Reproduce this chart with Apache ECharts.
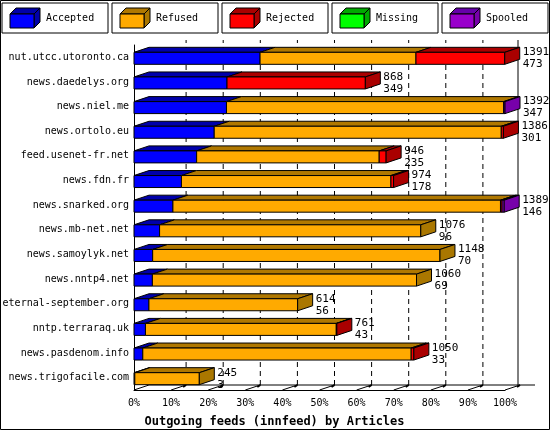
<!DOCTYPE html><html><head><meta charset="utf-8">
<script src="https://cdn.jsdelivr.net/npm/echarts@6/dist/echarts.min.js"></script>
<style>body{margin:0}#c{width:550px;height:430px}</style></head><body><div id="c"></div>
<script>
const hosts=["nut.utcc.utoronto.ca","news.daedelys.org","news.niel.me","news.ortolo.eu","feed.usenet-fr.net","news.fdn.fr","news.snarked.org","news.mb-net.net","news.samoylyk.net","news.nntp4.net","eternal-september.org","nntp.terraraq.uk","news.pasdenom.info","news.trigofacile.com"];
const offered=[1391,868,1392,1386,946,974,1389,1076,1148,1060,614,761,1050,245];
const accepted=[473,349,347,301,235,178,146,96,70,69,56,43,33,3];
const refused=[585,0,1040,1077,685,786,1229,980,1078,991,558,716,1007,242];
const rejected=[333,519,0,8,26,10,6,0,0,0,0,2,10,0];
const missing=[0,0,0,0,0,0,0,0,0,0,0,0,0,0];
const spooled=[0,0,5,0,0,0,8,0,0,0,0,0,0,0];
const tickLabels=["0%","10%","20%","30%","40%","50%","60%","70%","80%","90%","100%"];
const names=["Accepted","Refused","Rejected","Missing","Spooled"];
const front=["#0000ff","#ffaa00","#ff0000","#00ff00","#9900cc"];
const top_=["#0000aa","#b07800","#aa0000","#00aa00","#6600aa"];
const side=["#0000aa","#aa7700","#aa0000","#00aa00","#7700aa"];
const MAX=1392, DX=15, DY=-5, F='"DejaVu Sans Mono",monospace';
const segs=[accepted,refused,rejected,missing,spooled];
const data=hosts.map((h,i)=>[i]);
const chart=echarts.init(document.getElementById('c'));
const legend=[];
names.forEach((n,i)=>{const x=2+i*110;
 legend.push({type:'rect',shape:{x:x,y:3,width:106,height:30},style:{fill:'#fff',stroke:'#000',lineWidth:1}});
 legend.push({type:'polygon',shape:{points:[[x+8,14],[x+14,8],[x+38,8],[x+32,14]]},style:{fill:top_[i],stroke:'#000'}});
 legend.push({type:'polygon',shape:{points:[[x+32,14],[x+38,8],[x+38,22],[x+32,28]]},style:{fill:side[i],stroke:'#000'}});
 legend.push({type:'rect',shape:{x:x+8,y:14,width:24,height:14},style:{fill:front[i],stroke:'#000'}});
 legend.push({type:'text',x:x+44,y:13,style:{text:n,font:'10px '+F,fill:'#000'}});
});
chart.setOption({animation:false,backgroundColor:'#fff',
 grid:{left:134,right:45,top:45,bottom:40,outerBoundsMode:'none',containLabel:false},
 xAxis:{type:'value',min:0,max:MAX,interval:MAX/10,axisLine:{show:true,lineStyle:{color:'#000'}},axisTick:{show:false},splitLine:{show:false},
  axisLabel:{color:'#000',fontFamily:F,fontSize:10,margin:8,formatter:(v)=>tickLabels[Math.round(v/MAX*10)]},
  name:'Outgoing feeds (innfeed) by Articles',nameLocation:'middle',nameGap:26,nameTextStyle:{color:'#000',fontFamily:F,fontSize:12,fontWeight:'bold',padding:[0,0,0,-90]}},
 yAxis:{type:'category',data:hosts,inverse:true,axisLine:{show:true,lineStyle:{color:'#000'}},axisTick:{show:false},
  axisLabel:{color:'#000',fontFamily:F,fontSize:10,margin:5}},
 graphic:[{type:'rect',shape:{x:0.5,y:0.5,width:549,height:429},style:{fill:'none',stroke:'#000'}}].concat(legend),
 series:[
 {type:'custom',coordinateSystem:'cartesian2d',data:tickLabels.map((t,i)=>[i*MAX/10]),z:1,
  renderItem:(p,api)=>{const v=api.value(0);const b=api.coord([v,hosts[hosts.length-1]]);
   const bx=b[0],by=p.coordSys.y+p.coordSys.height;const ty=p.coordSys.y-5;
   const ch=[];
   if(v>0&&v<MAX-1)ch.push({type:'line',shape:{x1:bx+DX,y1:by+DY,x2:bx+DX,y2:ty},style:{stroke:'#000',lineDash:[5,4]}});
   if(v>0)ch.push({type:'line',shape:{x1:bx+DX-3,y1:by+DY+2,x2:bx+DX,y2:by+DY},style:{stroke:'#000',lineWidth:2}});
   ch.push({type:'line',shape:{x1:bx,y1:by,x2:bx+DX,y2:by+DY},style:{stroke:'#000'}});
   if(v>=MAX-1){ch.push({type:'line',shape:{x1:bx+DX-2,y1:by+DY,x2:bx+DX-2,y2:ty},style:{stroke:'#000'}});
    ch.push({type:'line',shape:{x1:p.coordSys.x+DX,y1:by+DY,x2:bx+DX+15,y2:by+DY},style:{stroke:'#000'}});}
   return {type:'group',children:ch};}},
 {type:'custom',coordinateSystem:'cartesian2d',data:data,z:2,
  renderItem:(p,api)=>{const i=api.value(0);const ch=[];const h=12;
   let cum=0;let last=-1;segs.forEach((s,k)=>{if(s[i]>0)last=k;});
   segs.forEach((s,k)=>{const v=s[i];if(!v)return;
    const a=api.coord([cum,hosts[i]]),b=api.coord([cum+v,hosts[i]]);cum+=v;
    const y=a[1]-h/2+1,x1=a[0],x2=b[0];
    ch.push({type:'polygon',shape:{points:[[x1,y],[x1+DX,y+DY],[x2+DX,y+DY],[x2,y]]},style:{fill:top_[k],stroke:'#000',lineWidth:1}});
    ch.push({type:'rect',shape:{x:x1,y:y,width:x2-x1,height:h},style:{fill:front[k],stroke:'#000',lineWidth:1}});
    if(k===last)ch.push({type:'polygon',shape:{points:[[x2,y],[x2+DX,y+DY],[x2+DX,y+DY+h],[x2,y+h]]},style:{fill:side[k],stroke:'#000',lineWidth:1}});
   });
   const e=api.coord([offered[i],hosts[i]]);
   ch.push({type:'text',x:e[0]+DX+3,y:e[1]-h/2-5,style:{text:offered[i]+'\n'+accepted[i],font:'11px '+F,fill:'#000',lineHeight:12}});
   return {type:'group',children:ch};}}
 ]});
</script></body></html>
